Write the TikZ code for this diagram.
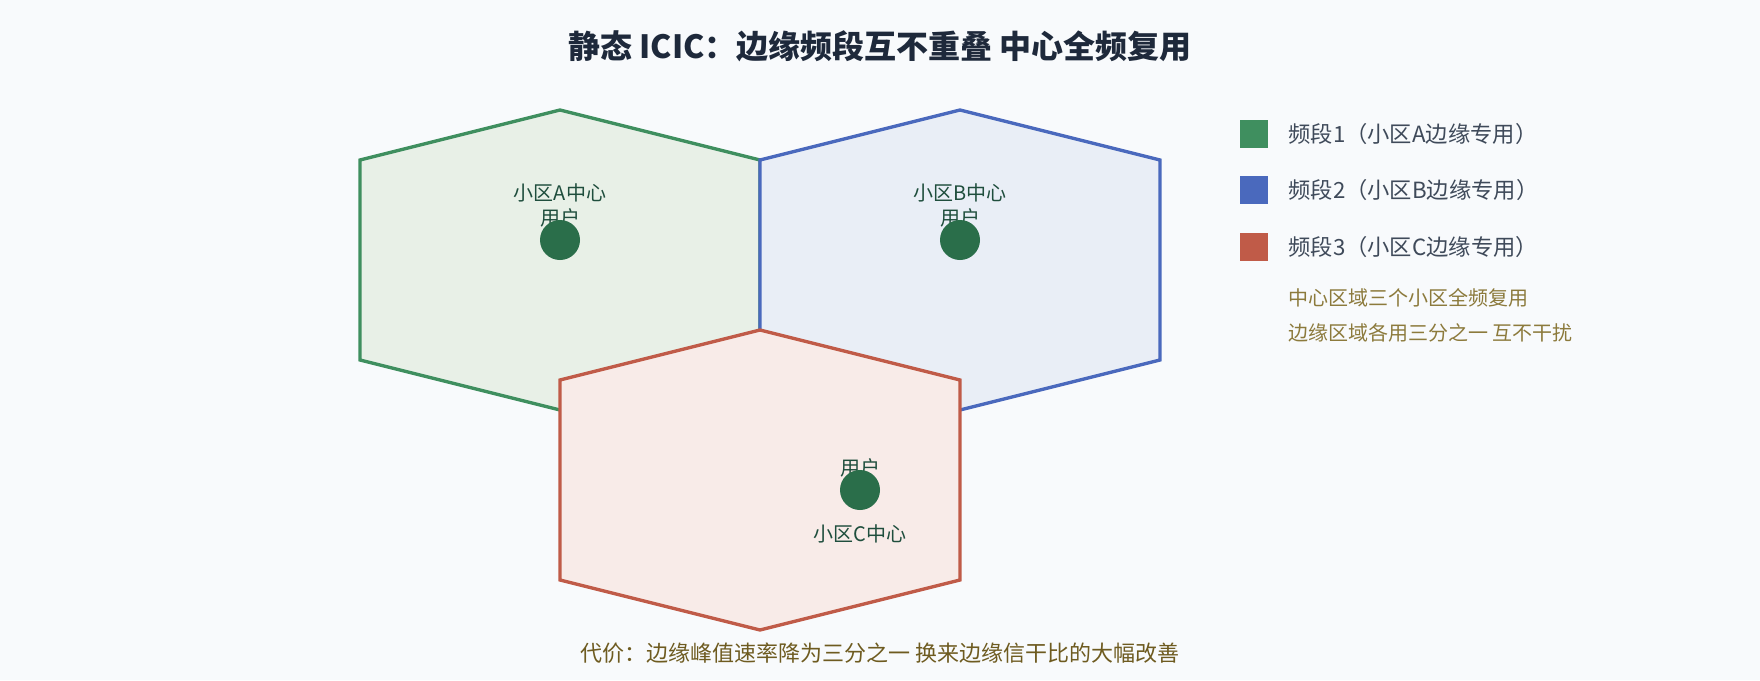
\documentclass[tikz,border=0pt]{standalone}
\usepackage{fontspec}
\setmainfont{Noto Sans CJK SC}
\usepackage{tikz}
\usetikzlibrary{positioning}
\definecolor{bg}{HTML}{F8FAFC}
\definecolor{bandA}{HTML}{3F8F5F}
\definecolor{bandAfill}{HTML}{E8F0E7}
\definecolor{bandB}{HTML}{4A69BD}
\definecolor{bandBfill}{HTML}{E9EEF6}
\definecolor{bandC}{HTML}{C05B48}
\definecolor{bandCfill}{HTML}{F8EBE8}
\definecolor{ue}{HTML}{2A6E4A}
\definecolor{celltxt}{HTML}{1F4E3D}
\definecolor{titlec}{HTML}{1E293B}
\definecolor{legc}{HTML}{3F4A5A}
\definecolor{notec}{HTML}{8C7A3C}
\definecolor{costc}{HTML}{6E5B20}
\tikzset{
  cell/.style={draw=#1, fill=#1fill, line width=3.3pt},
  uedot/.style={circle, fill=ue, minimum size=40pt, inner sep=0pt},
  lbl/.style={text=celltxt, font=\fontsize{20}{25}\selectfont, align=center, inner sep=0pt},
  swatch/.style={fill=#1, minimum size=28pt, inner sep=0pt},
  legtxt/.style={text=legc, font=\fontsize{22.3}{26}\selectfont, inner sep=0pt},
  note/.style={text=notec, font=\fontsize{20}{24}\selectfont, inner sep=0pt, anchor=west}
}
\begin{document}
\begin{tikzpicture}[x=1pt, y=-1pt]
  \fill[bg] (0,0) rectangle (1760,680);
  \useasboundingbox (0,0) rectangle (1760,680);
  % title
  \node[font=\bfseries\fontsize{32}{38}\selectfont, text=titlec] (title) at (880,46)
    {静态 ICIC：边缘频段互不重叠 中心全频复用};
  % three cells, C drawn last
  \foreach \cx/\cy/\band in {560/260/bandA, 960/260/bandB, 760/480/bandC}
    \draw[cell=\band] (\cx,\cy) ++(0,-150) -- ++(200,50) -- ++(0,200)
      -- ++(-200,50) -- ++(-200,-50) -- ++(0,-200) -- cycle;
  % cell labels
  \node[lbl] (labA) at (560,205) {小区A中心\\用户};
  \node[lbl] (labB) at (960,205) {小区B中心\\用户};
  \node[lbl] (userC) at (860,468) {用户};
  \node[lbl] (labC) at (860,534) {小区C中心};
  % users
  \node[uedot] (ueA) at (560,240) {};
  \node[uedot] (ueB) at (960,240) {};
  \node[uedot] (ueC) at (860,490) {};
  % legend
  \node[swatch=bandA] (swA) at (1254,134) {};
  \node[legtxt, right=20pt of swA] (legA) {频段1（小区A边缘专用）};
  \node[swatch=bandB, below=28pt of swA] (swB) {};
  \node[legtxt, right=20pt of swB] (legB) {频段2（小区B边缘专用）};
  \node[swatch=bandC, below=28pt of swB] (swC) {};
  \node[legtxt, right=20pt of swC] (legC) {频段3（小区C边缘专用）};
  \node[note] (note1) at (1288,298) {中心区域三个小区全频复用};
  \node[note] (note2) at (1288,333) {边缘区域各用三分之一 互不干扰};
  % cost line
  \node[text=costc, font=\fontsize{22}{26}\selectfont] (cost) at (880,653)
    {代价：边缘峰值速率降为三分之一 换来边缘信干比的大幅改善};
\end{tikzpicture}
\end{document}
